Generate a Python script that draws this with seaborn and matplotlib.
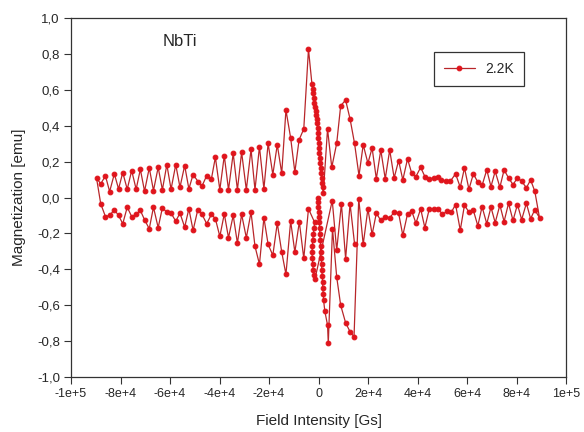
import numpy as np
import pandas as pd
import seaborn as sns
import matplotlib.pyplot as plt

# === Data (field in Gs, moment in emu) ===
# initial branch near zero field, then the sharp drop and jump back
virgin_h = [-100, -100, -100, 0, 0, 300, 400, 500, 700, 800, 900, 1100, 1200, 1300,
            1500, 1600, 1700, 1900, 2000, 2500, 3600, 3900,
            5600, 7300, 8900, 10900, 12700, 14300, 16200]
virgin_m = [0.00, -0.026, -0.054, -0.082, -0.109, -0.139, -0.172, -0.206, -0.239, -0.272,
            -0.306, -0.339, -0.372, -0.406, -0.439, -0.472, -0.506, -0.539, -0.572, -0.633,
            -0.711, -0.813,
            -0.174, -0.443, -0.600, -0.698, -0.748, -0.776, -0.006]

# increasing field up to +9e4 (lower right part of the loop)
up_h = [18000, 19900, 21600, 23300, 25100, 26900, 28700, 30500, 32300, 34000, 35900,
        37600, 39300, 41200, 42900, 44700, 46500, 48300, 50000, 51900, 53600, 55300,
        57200, 58900, 60700, 62500, 64300, 66000, 67900, 69600, 71300, 73200, 74900,
        76700, 78500, 80300, 82000, 83900, 85600, 87300, 89200]
up_m = [-0.261, -0.063, -0.206, -0.087, -0.128, -0.106, -0.113, -0.082, -0.087, -0.211,
        -0.091, -0.076, -0.143, -0.063, -0.168, -0.063, -0.063, -0.063, -0.094, -0.076,
        -0.082, -0.039, -0.182, -0.042, -0.082, -0.072, -0.158, -0.051, -0.146, -0.054,
        -0.140, -0.042, -0.134, -0.032, -0.128, -0.039, -0.123, -0.032, -0.118, -0.068,
        -0.113]

# decreasing field from +9e4 to -9e4 (upper branch)
down_h = [87300, 85600, 83900, 82000, 80300, 78500, 76700, 74900, 73200, 71300, 69600,
          67900, 66000, 64300, 62500, 60700, 58900, 57200, 55300, 53200, 51300, 49600,
          48300, 46500, 44700, 42900, 41200, 39300, 37600, 35900, 34000, 32300, 30500,
          28700, 26900, 25100, 23300, 21600, 19900, 18000, 16300, 14500, 12700, 10900,
          8900, 7300, 5300, 3600,
          1900, 1600, 1400, 1200, 1000, 800, 600, 400, 300, 200, 0, -100, -200, -400,
          -600, -700, -900, -1200, -1500, -1700, -2000, -2200, -2400, -2700,
          -4100, -6000, -7900, -9600, -11300, -13200, -14900, -16700, -18500, -20400,
          -22100, -23900, -25700, -27300, -29200, -31100, -32800, -34500, -36400, -38100,
          -39900, -41700, -43300, -45200, -47100, -48700, -50700, -52400, -54100, -56000,
          -57700, -59600, -61300, -63100, -64800, -66700, -68400, -70300, -72000, -73700,
          -75500, -77300, -79100, -80800, -82500, -84400, -86100, -88000, -89700]
down_m = [0.035, 0.098, 0.054, 0.091, 0.109, 0.072, 0.109, 0.154, 0.057, 0.146, 0.061,
          0.154, 0.067, 0.085, 0.132, 0.046, 0.165, 0.057, 0.132, 0.091, 0.091, 0.098,
          0.117, 0.109, 0.104, 0.117, 0.168, 0.117, 0.135, 0.215, 0.098, 0.206, 0.109,
          0.265, 0.104, 0.265, 0.104, 0.276, 0.191, 0.294, 0.122, 0.302, 0.437, 0.543,
          0.511, 0.302, 0.168, 0.382,
          0.026, 0.056, 0.083, 0.111, 0.139, 0.167, 0.194, 0.222, 0.250, 0.278, 0.306,
          0.333, 0.361, 0.389, 0.417, 0.439, 0.461, 0.483, 0.506, 0.528, 0.556, 0.583,
          0.606, 0.632,
          0.826, 0.382, 0.321, 0.141, 0.332, 0.487, 0.135, 0.294, 0.128, 0.302,
          0.048, 0.283, 0.043, 0.268, 0.043, 0.252, 0.043, 0.246, 0.043, 0.233,
          0.043, 0.224, 0.104, 0.122, 0.064, 0.089, 0.128, 0.048, 0.178, 0.057,
          0.183, 0.046, 0.183, 0.043, 0.168, 0.039, 0.165, 0.035, 0.157, 0.046,
          0.150, 0.046, 0.139, 0.048, 0.132, 0.033, 0.121, 0.076, 0.109]

# increasing field from -9e4 back through zero (lower branch)
ret_h = [-88000, -86100, -84400, -82500, -80800, -79100, -77300, -75500, -73700, -72000,
         -70300, -68400, -66700, -64800, -63100, -61300, -59600, -57700, -56000, -54100,
         -52400, -50700, -48800, -47100, -45200, -43300, -41700, -39900, -38100, -36400,
         -34500, -32800, -31100, -29200, -27300, -25700, -23900, -22100, -20400, -18500,
         -16700, -14900, -13200, -11300, -9600, -7800, -6000, -4100,
         -1600, -1900, -2100, -2400, -2500, -2700, -2500, -2400, -2100, -1900, -1500,
         5500, 7300, 9200, 10900, 12700, 14500]
ret_m = [-0.035, -0.106, -0.100, -0.068, -0.100, -0.146, -0.054, -0.106, -0.094, -0.072,
         -0.124, -0.174, -0.054, -0.168, -0.057, -0.082, -0.087, -0.132, -0.087, -0.165,
         -0.063, -0.183, -0.068, -0.094, -0.146, -0.094, -0.118, -0.217, -0.091, -0.224,
         -0.100, -0.254, -0.094, -0.224, -0.082, -0.272, -0.372, -0.113, -0.261, -0.322,
         -0.143, -0.304, -0.428, -0.132, -0.304, -0.136, -0.339, -0.063,
         -0.139, -0.172, -0.206, -0.239, -0.272, -0.306, -0.339, -0.372, -0.406, -0.433,
         -0.456,
         -0.017, -0.294, -0.035, -0.341, -0.035, -0.257]

xticks = [-1e5, -8e4, -6e4, -4e4, -2e4, 0, 2e4, 4e4, 6e4, 8e4, 1e5]
xtick_labels = ["-1e+5", "-8e+4", "-6e+4", "-4e+4", "-2e+4", "0",
                "2e+4", "4e+4", "6e+4", "8e+4", "1e+5"]
yticks = [-1.0, -0.8, -0.6, -0.4, -0.2, 0.0, 0.2, 0.4, 0.6, 0.8, 1.0]
ytick_labels = ["-1,0", "-0,8", "-0,6", "-0,4", "-0,2", "0,0",
                "0,2", "0,4", "0,6", "0,8", "1,0"]

df = pd.DataFrame({
    "field": virgin_h + up_h + down_h + ret_h,
    "moment": virgin_m + up_m + down_m + ret_m,
})

# === Plot ===
sns.set_style("ticks")
plt.rcParams['font.family'] = ['Liberation Sans', 'DejaVu Sans']

fig = plt.figure(figsize=(5.84, 4.32), dpi=100)
ax = fig.add_axes([0.1216, 0.1273, 0.848, 0.8310])

sns.lineplot(data=df, x="field", y="moment", sort=False, estimator=None,
             color="#b8262a", linewidth=0.9, marker="o", markersize=3.4,
             markerfacecolor="#e0141c", markeredgecolor="#e0141c",
             label="2.2K", ax=ax)

ax.set_xlim(-1e5, 1e5)
ax.set_ylim(-1.0, 1.0)
ax.set_xticks(xticks)
ax.set_xticklabels(xtick_labels, fontsize=9)
ax.set_yticks(yticks)
ax.set_yticklabels(ytick_labels, fontsize=9.5)
ax.tick_params(direction="out", length=5, width=0.8, color="#333333", pad=3)
for s in ax.spines.values():
    s.set_color("#333333")
    s.set_linewidth(0.9)

ax.set_xlabel("Field Intensity [Gs]", fontsize=11, labelpad=10)
ax.set_ylabel("Magnetization [emu]", fontsize=11, labelpad=8)

ax.text(-6.3e4, 0.87, "NbTi", fontsize=12, ha="left", va="center")

leg = ax.legend(loc="upper right", bbox_to_anchor=(0.915, 0.905), borderaxespad=0,
                fancybox=False, edgecolor="#333333", framealpha=1,
                fontsize=10, handlelength=2.2, borderpad=0.7)
leg.get_frame().set_linewidth(0.9)

fig.savefig("out.png", dpi=100)
